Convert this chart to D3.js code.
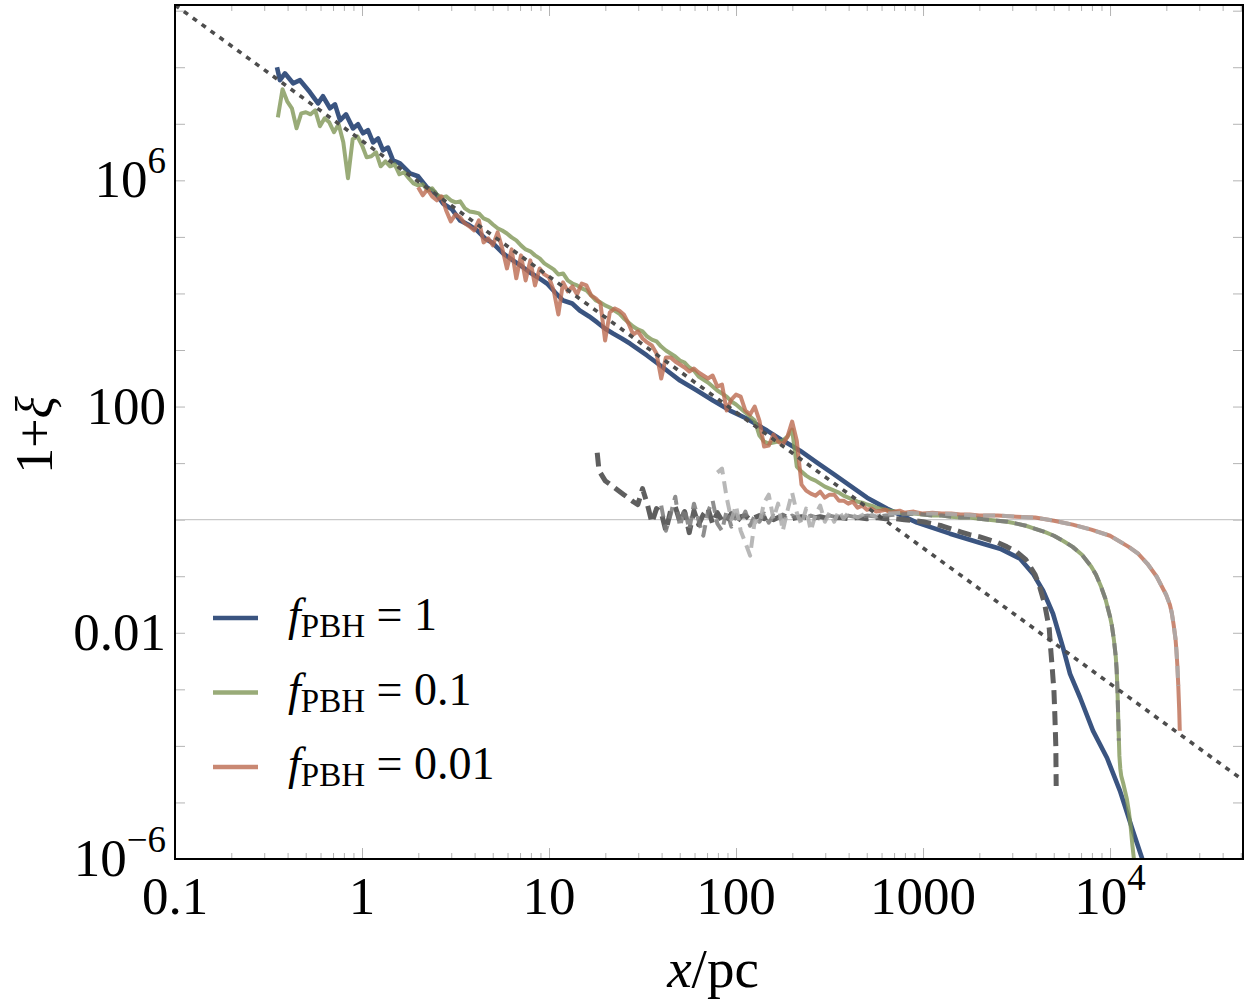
<!DOCTYPE html>
<html><head><meta charset="utf-8">
<script src="https://cdn.jsdelivr.net/npm/d3@7"></script>
<style>
body{margin:0;background:#fff}
text{font-family:"Liberation Serif","DejaVu Serif",serif;fill:#000}
</style>
</head><body>
<svg id="chart" width="1250" height="1000"></svg>
<script>
// ---------- data ----------
const xTicksMajor = [0.1, 1, 10, 100, 1000, 10000];
const xTickLabels = [["0.1",""],["1",""],["10",""],["100",""],["1000",""],["10","4"]];
const yTicksLabelled = [1e6, 100, 0.01, 1e-6];
const yTickLabels = [["10","6"],["100",""],["0.01",""],["10","\u22126"]];
const legendLabels = ["1", "0.1", "0.01"];

// f_PBH = 1 (blue)
const blueX = [0.351,0.364,0.387,0.428,0.466,0.527,0.582,0.618,0.674,0.717,0.763,0.821,0.895,0.952,1.012,1.076,1.145,1.218,1.295,1.377,1.465,1.597,1.806,1.993,2.227,2.455,2.71,3.03,3.34,3.69,4.12,4.55,5.02,5.68,6.41,7.17,7.91,8.73,9.75,10.8,11.9,13.3,14.6,16.4,18.1,19.9,22.0,24.5,27.1,33.4,40.7,50.2,61.8,75.3,92.9,114.5,146.6,178,220,271,330,407,502,641,929,1394,2093,2582,3304,3873,4385,4955,5610,6110,6920,8110,9640,11300,13270,15000];
const blueY = [1.0e8,5.9e7,7.8e7,5.2e7,5.9e7,3.6e7,2.3e7,3.07e7,1.88e7,2.2e7,1.15e7,1.47e7,8.3e6,9.8e6,6.8e6,7.7e6,4.7e6,5.5e6,3.4e6,3.8e6,2.26e6,2.0e6,1.33e6,1.18e6,7.5e5,6.1e5,3.9e5,3.07e5,1.96e5,1.66e5,1.30e5,9.4e4,7.7e4,5.1e4,3.84e4,3.0e4,2.35e4,1.92e4,1.50e4,1.04e4,7.5e3,6.65e3,5.0e3,3.92e3,3.07e3,2.40e3,1.96e3,1.60e3,1.30e3,800,490,288,192,128,85,61,37.6,25,16.6,10.2,6.5,4.0,2.45,1.57,0.885,0.565,0.376,0.307,0.204,0.111,0.0553,0.0217,5.4e-3,1.88e-3,7.1e-4,1.84e-4,6.1e-5,1.6e-5,3.1e-6,9.2e-7];

// f_PBH = 0.1 (green)
const greenX = [0.3548,0.3758,0.3981,0.4217,0.4467,0.4732,0.5012,0.5309,0.5623,0.5957,0.631,0.6683,0.7079,0.7499,0.7943,0.8414,0.8913,0.9441,
1,1.059,1.122,1.189,1.259,1.334,1.413,1.496,1.585,1.679,1.778,1.884,1.995,2.113,2.239,2.371,2.512,2.661,2.818,2.985,3.162,3.35,3.548,3.758,3.981,4.217,4.467,4.732,5.012,5.309,5.623,5.957,6.31,6.683,7.079,7.499,7.943,8.414,8.913,9.441,
10,10.59,11.22,11.89,12.59,13.34,14.13,14.96,15.85,16.79,17.78,18.84,19.95,21.13,22.39,23.71,25.12,26.61,28.18,29.85,31.62,33.5,35.48,37.58,39.81,42.17,44.67,47.32,50.12,53.09,56.23,59.57,63.1,66.83,70.79,74.99,79.43,84.14,89.13,94.41,
100,105.9,112.2,118.9,125.9,133.4,141.3,149.6,158.5,167.9,177.8,188.4,199.5,211.3,223.9,237.1,251.2,266.1,281.8,298.5,316.2,335,354.8,375.8,398.1,421.7,446.7,473.2,501.2,530.9,562.3,595.7,631,668.3,707.9,749.9,794.3,
891.3,1000,1122,1259,1413,1585,1778,1995,2239,2512,2818,3162,3548,3981,4467,5012,5623,6310,7079,7943,8414,8913,9441,10000,
10230,10470,10720,10840,10960,11090,11220,11350,11480,11750,12020,12300,12590,12880,13180,13490];
const greenY = [1.30e7,4.08e7,2.50e7,1.88e7,8.34e6,1.53e7,1.60e7,1.47e7,1.73e7,9.04e6,1.25e7,1.06e7,7.08e6,9.79e6,4.71e6,1.09e6,5.32e6,6.01e6,
4.17e6,2.55e6,2.66e6,3.13e6,1.77e6,2.17e6,1.77e6,1.92e6,1.28e6,1.39e6,1.09e6,8.85e5,8.17e5,8.49e5,6.65e5,7.23e5,5.65e5,5.0e5,5.21e5,4.43e5,4.08e5,4.25e5,3.20e5,2.82e5,2.72e5,2.61e5,2.13e5,1.96e5,1.66e5,1.42e5,1.30e5,1.15e5,9.8e4,8.67e4,7.08e4,6.01e4,5.55e4,4.71e4,4.17e4,3.40e4,
3.01e4,2.66e4,2.17e4,2.26e4,1.70e4,1.50e4,1.39e4,1.23e4,1.13e4,9.23e3,7.52e3,6.93e3,6.14e3,5.65e3,5.0e3,4.43e3,3.61e3,3.07e3,2.61e3,2.31e3,2.13e3,1.73e3,1.53e3,1.42e3,1.15e3,980,867,767,652,601,490,434,340,301,266,226,192,170,150,123,
109,92.3,78.3,66.5,56.5,30.7,24.0,22.1,23.1,24.0,25.0,29.4,39.2,8.67,7.08,6.01,5.32,4.90,4.34,3.84,3.54,3.26,3.01,2.66,2.45,2.26,2.08,2.00,1.85,1.77,1.63,1.57,1.50,1.44,1.39,1.33,1.28,
1.28,1.23,1.18,1.18,1.13,1.09,1.09,1.04,1.00,0.96,0.92,0.85,0.78,0.69,0.61,0.52,0.42,0.33,0.24,0.147,0.106,0.068,0.040,0.0192,
0.0133,7.8e-3,3.9e-3,2.3e-3,9.4e-4,2.26e-4,6.65e-5,3.9e-5,2.94e-5,2.21e-5,1.6e-5,1.15e-5,7.1e-6,3.84e-6,1.7e-6,8.5e-7];

// f_PBH = 0.01 (red)
const redX = [1.995,2.113,2.239,2.371,2.512,2.661,2.818,2.985,3.162,3.35,3.548,3.758,3.981,4.217,4.467,4.732,5.012,5.309,5.623,5.957,6.31,6.683,7.079,7.499,7.943,8.414,8.913,9.441,
10,10.59,11.22,11.89,12.59,13.34,14.13,14.96,15.85,16.79,17.78,18.84,19.95,21.13,22.39,23.71,25.12,26.61,28.18,29.85,31.62,33.5,35.48,37.58,39.81,42.17,44.67,47.32,50.12,53.09,56.23,59.57,63.1,66.83,70.79,74.99,79.43,84.14,89.13,94.41,
100,105.9,112.2,118.9,125.9,133.4,141.3,149.6,158.5,167.9,177.8,188.4,199.5,211.3,223.9,237.1,251.2,266.1,281.8,298.5,316.2,335,354.8,375.8,398.1,421.7,446.7,473.2,501.2,530.9,562.3,595.7,631,668.3,707.9,749.9,794.3,
891.3,1000,1122,1259,1413,1585,1778,1995,2512,3162,3981,5012,6310,7943,10000,12590,14130,15850,17780,19950,
20890,21380,21880,22390,22650,22910,23170,23440,23600];
const redY = [7.52e5,5.43e5,6.93e5,5.21e5,4.43e5,5.21e5,2.94e5,1.88e5,2.50e5,2.21e5,1.73e5,1.53e5,1.30e5,1.96e5,8.0e4,9.42e4,7.08e4,1.20e5,6.27e4,2.77e4,6.01e4,1.85e4,4.71e4,1.70e4,3.84e4,1.39e4,2.77e4,2.17e4,
1.92e4,1.13e4,4.25e3,1.57e4,1.09e4,1.33e4,9.6e3,1.50e4,1.39e4,9.23e3,8.17e3,6.65e3,1.47e3,4.61e3,5.43e3,5.0e3,4.25e3,2.94e3,1.88e3,2.13e3,1.60e3,1.36e3,1.20e3,867,313,736,736,627,555,490,417,471,400,354,313,354,226,245,84.9,133,
163,150,84.9,72.3,100,56.5,19.6,20.4,32.0,24.0,21.3,29.4,54.3,25.0,4.17,3.26,2.88,2.66,3.13,2.45,2.77,2.77,2.17,2.17,1.92,2.08,1.63,1.77,1.50,1.57,1.39,1.44,1.50,1.33,1.39,1.44,1.33,
1.39,1.28,1.33,1.28,1.28,1.23,1.23,1.18,1.18,1.13,1.09,0.96,0.817,0.665,0.52,0.33,0.25,0.166,0.098,0.047,
0.0313,0.0226,0.0139,7.8e-3,4.8e-3,2.6e-3,1.15e-3,4.2e-4,1.85e-4];

// dashed comparison curves
const gray1X = [18.1,18.5,19.95,22.39,25.12,28.18,29.85,31.62,33.5,35.48,37.58,39.81,42.17,44.67,47.32,50.12,53.09,56.23,59.57,63.1,66.83,70.79,74.99,79.43,84.14,89.13,94.41,100,105.9,112.2,118.9,125.9,133.4,141.3,149.6,158.5,167.9,177.8,199.5,223.9,251.2,281.8,316.2,354.8,398.1,446.7,501.2,562.3,631,707.9,794.3,891.3,1000,1122,1259,1413,1585,1778,1995,2239,2512,2818,3162,3548,3981,4217,4467,4732,4786,4898,5012,5070,5129,5152];
const gray1Y = [15.3,7.36,4.90,3.69,2.77,2.08,1.85,3.54,1.92,0.885,1.57,1.33,0.638,1.44,1.70,0.92,1.39,0.589,1.44,0.817,1.23,1.57,0.85,1.33,0.96,0.92,1.28,0.885,1.13,1.18,1.0,1.09,1.18,1.04,1.13,1.0,1.09,1.18,1.04,1.13,1.04,1.13,1.04,1.09,1.04,1.09,1.04,1.09,1.04,1.04,1.0,0.96,0.92,0.85,0.78,0.69,0.61,0.543,0.50,0.443,0.392,0.33,0.272,0.196,0.106,0.0627,0.0326,0.0118,6.65e-3,2.6e-3,9.4e-4,3.4e-4,1.0e-4,1.96e-5];

const gray2X = [39.81,42.17,44.67,47.32,50.12,53.09,56.23,59.57,63.1,66.83,70.79,74.99,79.43,84.14,89.13,94.41,100,105.9,112.2,118.9,125.9,133.4,141.3,149.6,158.5,167.9,177.8,188.4,199.5,223.9,251.2,281.8,316.2,354.8,398.1,446.7,501.2,562.3,631,707.9,794.3,891.3,1000,1122,1259,1413,1585,1778,1995,2239,2512,2818,3162,3548,3981,4467,5012,5623,6310,7079,7943,8414,8913,9441,10000,10230,10470,10720,10840,10960,11090,11140];
const gray2Y = [1.77,0.638,1.23,2.55,0.752,1.57,0.665,1.92,0.96,0.52,1.39,2.17,0.85,0.638,1.44,0.752,1.23,0.92,1.39,0.78,1.18,0.92,1.28,0.885,1.18,0.96,1.23,1.0,1.18,1.0,1.18,1.04,1.18,1.09,1.18,1.09,1.18,1.13,1.18,1.22,1.25,1.28,1.23,1.18,1.18,1.13,1.09,1.09,1.04,1.00,0.96,0.92,0.85,0.78,0.69,0.61,0.52,0.42,0.33,0.24,0.147,0.106,0.068,0.040,0.0192,0.0133,7.8e-3,3.9e-3,2.3e-3,9.4e-4,2.26e-4,1.23e-4];

const gray3X = [79.43,84.14,89.13,94.41,100,105.9,112.2,118.9,125.9,133.4,141.3,149.6,158.5,167.9,177.8,188.4,199.5,211.3,223.9,237.1,251.2,266.1,281.8,298.5,316.2,335,354.8,375.8,398.1,446.7,501.2,562.3,631,794.3,1000,1259,1585,1995,2512,3162,3981,5012,6310,7943,10000,12590,14130,15850,17780,19950,20890,21380,21880,22390,22650,22910,23170];
const gray3Y = [6.79,8.0,2.45,1.0,1.77,0.638,0.392,0.231,0.96,0.85,2.0,2.77,1.04,1.92,0.638,1.44,3.01,1.33,0.817,1.57,0.638,1.23,1.77,0.92,1.33,0.92,1.44,1.04,1.33,1.09,1.33,1.13,1.28,1.33,1.28,1.28,1.23,1.18,1.18,1.13,1.09,0.96,0.817,0.665,0.52,0.33,0.25,0.166,0.098,0.047,0.0313,0.0226,0.0139,7.8e-3,4.8e-3,2.6e-3,1.15e-3];

// dotted power-law guide
const guideX = [0.1, 51400];
const guideY = [1.26e9, 2.48e-5];
// horizontal reference at 1+xi = 1
const unityY = 1;

// ---------- layout ----------
const L = 175, R = 1243, T = 5, B = 859;

const svg = d3.select("#chart");
const x = d3.scaleLog().domain([0.1, 51400]).range([L, R]);
const y = d3.scaleLog().domain([1e-6, 1.26e9]).range([B, T]);

svg.append("defs").append("clipPath").attr("id","plotclip")
  .append("rect").attr("x",L).attr("y",T).attr("width",R-L).attr("height",B-T);

// ticks (inward, light grey)
const xMinor = [];
for (let e=-1; e<=4; e++) for (let m=2; m<=9; m++) { const v=m*Math.pow(10,e); if (v<=51400) xMinor.push(v); }
const yMajor = d3.range(-6, 10).map(e => Math.pow(10, e));

function styleAxis(g){ g.select(".domain").remove(); g.selectAll(".tick line").attr("stroke","#b4b4b4").attr("stroke-width",1); g.selectAll(".tick text").remove(); }
svg.append("g").attr("transform",`translate(0,${B})`).call(d3.axisBottom(x).tickValues(xTicksMajor).tickSize(-11).tickFormat("")).call(styleAxis);
svg.append("g").attr("transform",`translate(0,${B})`).call(d3.axisBottom(x).tickValues(xMinor).tickSize(-6).tickFormat("")).call(styleAxis);
svg.append("g").attr("transform",`translate(0,${T})`).call(d3.axisTop(x).tickValues(xTicksMajor).tickSize(-11).tickFormat("")).call(styleAxis);
svg.append("g").attr("transform",`translate(0,${T})`).call(d3.axisTop(x).tickValues(xMinor).tickSize(-6).tickFormat("")).call(styleAxis);
svg.append("g").attr("transform",`translate(${L},0)`).call(d3.axisLeft(y).tickValues(yMajor).tickSize(-10).tickFormat("")).call(styleAxis);
svg.append("g").attr("transform",`translate(${R},0)`).call(d3.axisRight(y).tickValues(yMajor).tickSize(-10).tickFormat("")).call(styleAxis);

// plot content
const plot = svg.append("g").attr("clip-path","url(#plotclip)");
plot.append("line").attr("x1",L).attr("x2",R).attr("y1",y(unityY)).attr("y2",y(unityY))
  .attr("stroke","#c9c9c9").attr("stroke-width",1.3);

const line = d3.line().x(d => x(d[0])).y(d => y(d[1]));
function drawSeries(X, Y, opts){
  plot.append("path").datum(d3.zip(X, Y)).attr("d", line)
    .attr("fill","none").attr("stroke",opts.color).attr("stroke-width",opts.width)
    .attr("stroke-opacity", opts.opacity || 1)
    .attr("stroke-dasharray", opts.dash || null)
    .attr("stroke-linejoin","round").attr("stroke-linecap", opts.cap || "butt");
}
const colBlue = "#3a5480", colGreen = "#7f9656", colRed = "#bb6a50";
drawSeries(blueX, blueY, {color: colBlue, width: 4.6});
drawSeries(greenX, greenY, {color: colGreen, width: 4, opacity: 0.8});
drawSeries(redX, redY, {color: colRed, width: 4, opacity: 0.8});
drawSeries(gray1X, gray1Y, {color: "#5f5f5f", width: 5, dash: "14,7"});
drawSeries(gray2X, gray2Y, {color: "#7a7a7a", width: 4, dash: "12,7", opacity: 0.85});
drawSeries(gray3X, gray3Y, {color: "#ababab", width: 4, dash: "12,7", opacity: 0.85});
drawSeries(guideX, guideY, {color: "#4d4d4d", width: 3.6, dash: "5,6"});

// frame
svg.append("rect").attr("x",L).attr("y",T).attr("width",R-L).attr("height",B-T)
  .attr("fill","none").attr("stroke","#000").attr("stroke-width",2);

// tick labels
const fs = 53, sfs = 37;
xTicksMajor.forEach((v,i) => {
  const t = svg.append("text").attr("x", x(v)).attr("y", 914).attr("text-anchor","middle").attr("font-size",fs);
  t.append("tspan").text(xTickLabels[i][0]);
  if (xTickLabels[i][1]) t.append("tspan").attr("font-size",sfs).attr("dy",-24).text(xTickLabels[i][1]);
});
yTicksLabelled.forEach((v,i) => {
  const t = svg.append("text").attr("x", 166).attr("y", y(v)+17).attr("text-anchor","end").attr("font-size",fs);
  t.append("tspan").text(yTickLabels[i][0]);
  if (yTickLabels[i][1]) t.append("tspan").attr("font-size",sfs).attr("dy",-24).text(yTickLabels[i][1]);
});

// axis titles
const xt = svg.append("text").attr("x", 713).attr("y", 987).attr("text-anchor","middle").attr("font-size",55);
xt.append("tspan").attr("font-style","italic").text("x");
xt.append("tspan").text("/pc");
const yt = svg.append("text").attr("transform","translate(52,435) rotate(-90)").attr("text-anchor","middle").attr("font-size",52);
yt.append("tspan").text("1+");
yt.append("tspan").attr("font-style","italic").text("\u03BE");

// legend
const legColors = [colBlue, colGreen, colRed];
const legOpac = [1, 0.8, 0.8];
legendLabels.forEach((lab, i) => {
  const ly = 618 + i*74.5;
  svg.append("line").attr("x1",213).attr("x2",258).attr("y1",ly).attr("y2",ly)
    .attr("stroke",legColors[i]).attr("stroke-opacity",legOpac[i]).attr("stroke-width",4.5);
  const t = svg.append("text").attr("x",288).attr("y",ly+12).attr("font-size",46);
  t.append("tspan").attr("font-style","italic").text("f");
  t.append("tspan").attr("font-size",33).attr("dy",7).text("PBH");
  t.append("tspan").attr("dy",-7).text(" = " + lab);
});
</script>
</body></html>
